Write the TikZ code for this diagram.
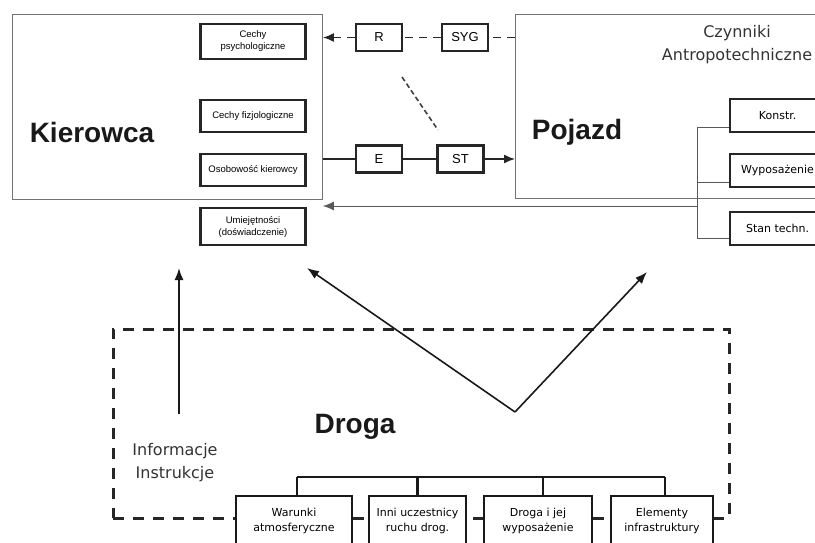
\documentclass[tikz,border=0pt]{standalone}
\usepackage{fontspec}
\setmainfont{Liberation Sans}
\newfontfamily\partfont{DejaVu Sans}
\usetikzlibrary{arrows.meta,calc,positioning}

\begin{document}
\begin{tikzpicture}[
  x=1pt,y=-1pt,
  frame/.style={draw=black!55,line width=.9pt,minimum width=310pt,minimum height=185pt,anchor=north west},
  title/.style={font=\fontsize{28}{32}\selectfont\bfseries,text=black!90},
  note/.style={font=\partfont\fontsize{16}{23}\selectfont,text=black!80,align=center},
  trait/.style={draw=black!85,line width=2.4pt,fill=white,minimum width=105pt,align=center,font=\fontsize{9.5}{12}\selectfont},
  gate/.style={draw=black!85,line width=2.2pt,fill=white,minimum width=46pt,minimum height=27pt,font=\fontsize{13}{15}\selectfont},
  part/.style={draw=black!85,line width=2.2pt,fill=white,minimum width=95pt,minimum height=33pt,font=\partfont\fontsize{11}{14}\selectfont},
  factor/.style={draw=black!90,line width=2.4pt,fill=white,minimum height=50pt,anchor=north,align=center,font=\partfont\fontsize{11}{15}\selectfont},
  road/.style={draw=black!85,line width=2.6pt,dash pattern=on 11pt off 9pt,minimum width=616pt,minimum height=189pt,anchor=north west},
  wire/.style={line width=1.4pt,draw=black!85},
  tip/.style={-{Latex[length=11pt,width=9pt]}},
  link/.style={wire,line width=1.6pt,dash pattern=on 8pt off 6pt},
  hint/.style={line width=1.6pt,draw=black!75,dash pattern=on 5pt off 3pt},
  bus/.style={line width=1pt,draw=black!65},
  bigflow/.style={line width=1.6pt,draw=black!90,-{Latex[length=12pt,width=9pt]}},
  tree/.style={line width=2.4pt,draw=black!90}
]
\useasboundingbox (0,0) rectangle (815,543);
\clip (0,0) rectangle (815,543);

% Kierowca
\node[frame] (kierowca) at (12,14) {};
\node[title] (kierowcalabel) at (92,132) {Kierowca};
\node[trait,minimum height=34.5pt] (psych) at (253,41.5) {Cechy\\psychologiczne};
\node[trait,minimum height=31.5pt] (fizjo) at (253,116) {Cechy fizjologiczne};
\node[trait,minimum height=31.5pt] (osob) at (253,170) {Osobowość kierowcy};
\node[trait,minimum height=36.5pt] (umiej) at (253,226.5) {Umiejętności\\(doświadczenie)};

% Pojazd
\node[frame,minimum width=400pt,minimum height=184pt] (pojazd) at (515,14) {};
\node[title] (pojazdlabel) at (577,132) {Pojazd};
\node[note] (czynniki) at (737,45) {Czynniki\\Antropotechniczne};
\node[part,anchor=west] (konstr) at (729,115.5) {Konstr.};
\node[part,anchor=west] (wypos) at (729,170.5) {Wyposażenie};
\node[part,anchor=west] (stan) at (729,228.5) {Stan techn.};

% sygnaly
\node[gate] (r) at (379,37.5) {R};
\node[gate] (syg) at (465,37.5) {SYG};
\node[gate] (e) at (379,159) {E};
\node[gate] (st) at (460.5,159) {ST};
\coordinate (hinta) at (402,77);
\coordinate (hintb) at (438,130);

% Droga
\node[road] (droga) at (112,328) {};
\node[title] (drogalabel) at (355,427) {Droga};
\node[note] (info) at (175,463) {Informacje\\Instrukcje};
\node[factor,minimum width=116pt] (warunki) at (294,495) {Warunki\\atmosferyczne};
\node[factor,minimum width=97pt] (inni) at (417.5,495) {Inni uczestnicy\\ruchu drog.};
\node[factor,minimum width=108pt] (drogawyp) at (538,495) {Droga i jej\\wyposażenie};
\node[factor,minimum width=102pt] (elementy) at (662,495) {Elementy\\infrastruktury};
\coordinate (bar) at (480,477);
\coordinate (hub) at (515,412);
\coordinate (tipkier) at (307,268);
\coordinate (tippoj) at (647,272);
\coordinate (infobase) at (179,414);
\coordinate (infotop) at (179,268);
\coordinate (busout) at (697,206);

\draw[link] (pojazd.west |- syg) -- (syg);
\draw[link] (syg) -- (r);
\draw[link,tip] (r) -- (kierowca.east |- r);
\draw[hint] (hinta) -- (hintb);
\draw[wire] (kierowca.east |- e) -- (e);
\draw[wire] (e) -- (st);
\draw[wire,tip] (st) -- (pojazd.west |- st);

\draw[bus] ($(konstr.west)+(0,12)$) -| ($(stan.west)+(-32,10)$) -- ($(stan.west)+(0,10)$);
\draw[bus] ($(wypos.west)+(0,12)$) -- ($(wypos.west)+(-32,12)$);
\draw[bus,tip] (busout) -- (kierowca.east |- busout);

\draw[bigflow] (hub) -- (tipkier);
\draw[bigflow] (hub) -- (tippoj);
\draw[bigflow] (infobase) -- (infotop);

\foreach \f/\dx in {warunki/3,inni/0,drogawyp/5,elementy/3}
  \draw[tree] ([xshift=\dx pt]\f.north) -- ([xshift=\dx pt]\f.north |- bar);
\draw[tree] ([xshift=3pt]warunki.north |- bar) -- ([xshift=3pt]elementy.north |- bar);
\end{tikzpicture}
\end{document}
